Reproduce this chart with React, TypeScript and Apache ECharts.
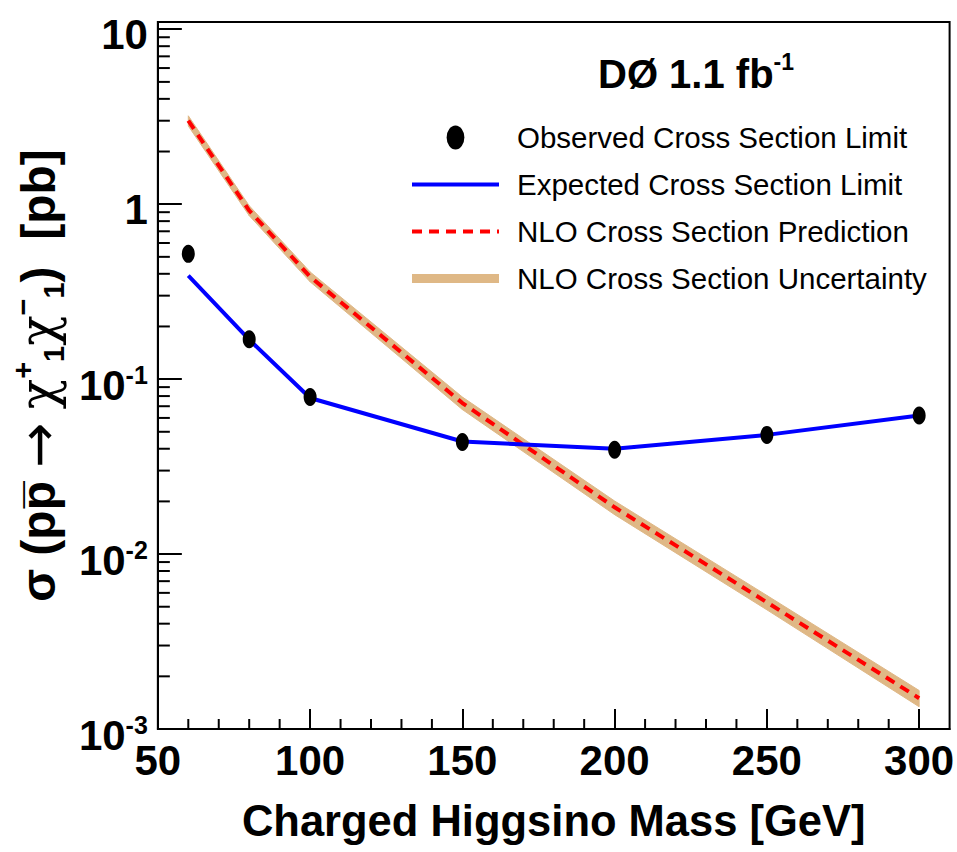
import React, { useEffect, useRef } from "react";
import * as echarts from "echarts";

// ---- data ----
const masses = [60, 80, 100, 150, 200, 250, 300];
const observed = [0.52, 0.169, 0.079, 0.0437, 0.0395, 0.048, 0.062];
const expected = [0.39, 0.168, 0.078, 0.044, 0.04, 0.048, 0.062];
const nloPred = [3.0, 0.92, 0.385, 0.073, 0.0185, 0.0053, 0.0015];
const nloUpper = [3.2, 0.98, 0.41, 0.079, 0.0201, 0.0058, 0.00166];
const nloLower = [2.8, 0.86, 0.36, 0.067, 0.0168, 0.0048, 0.00134];

const xMinorTicks = [60, 70, 80, 90, 110, 120, 130, 140, 160, 170, 180, 190, 210, 220, 230, 240, 260, 270, 280, 290];
const yMinorTicks = [
  0.002, 0.003, 0.004, 0.005, 0.006, 0.007, 0.008, 0.009,
  0.02, 0.03, 0.04, 0.05, 0.06, 0.07, 0.08, 0.09,
  0.2, 0.3, 0.4, 0.5, 0.6, 0.7, 0.8, 0.9,
  2, 3, 4, 5, 6, 7, 8, 9,
];

const X_MIN = 50;
const X_MAX = 310;
const Y_MIN = 0.001;
const Y_MAX = 11;

const NAMES = [
  "Observed Cross Section Limit",
  "Expected Cross Section Limit",
  "NLO Cross Section Prediction",
  "NLO Cross Section Uncertainty",
];

const FONT = "'Liberation Sans', Arial, sans-serif";
const GREEK = "'DejaVu Serif', 'Liberation Serif', serif";
const TAN = "#dfb886";

function buildOption(): any {
  const bandData = masses.map((m, i) => [m, nloLower[i], nloUpper[i]]);
  return {
    animation: false,
    backgroundColor: "#fff",
    grid: {
      left: 153,
      top: 22,
      width: 801,
      height: 707,
      show: true,
      borderColor: "#000",
      borderWidth: 2,
      backgroundColor: "#fff",
      containLabel: false,
    },
    graphic: [
      {
        type: "text",
        left: 598,
        top: 50,
        style: {
          text: "{m|DØ 1.1 fb}{s|-1}",
          rich: {
            m: { fontFamily: FONT, fontWeight: "bold", fontSize: 40, lineHeight: 44, fill: "#000", verticalAlign: "bottom" },
            s: { fontFamily: FONT, fontWeight: "bold", fontSize: 23, lineHeight: 23, fill: "#000", verticalAlign: "top" },
          },
        },
      },
    ],
    legend: {
      orient: "vertical",
      left: 410,
      top: 121,
      padding: 0,
      itemWidth: 87,
      itemHeight: 24,
      itemGap: 14,
      symbolKeepAspect: true,
      selectedMode: false,
      textStyle: { fontFamily: FONT, fontSize: 29.5, lineHeight: 33, color: "#000", padding: [0, 0, 0, 13] },
      data: [
        {
          name: NAMES[0],
          icon: "path://M8.5,0 A8.5,11.5 0 1,1 8.5,23 A8.5,11.5 0 1,1 8.5,0 Z",
          itemStyle: { color: "#000" },
        },
        { name: NAMES[1], lineStyle: { width: 4 }, itemStyle: { color: "transparent", borderWidth: 0 } },
        { name: NAMES[2], lineStyle: { width: 4 }, itemStyle: { color: "transparent", borderWidth: 0 } },
        { name: NAMES[3], icon: "path://M0,0 L87,0 L87,9 L0,9 Z", itemStyle: { color: TAN } },
      ],
    },
    xAxis: {
      type: "value",
      min: X_MIN,
      max: X_MAX,
      interval: 50,
      name: "Charged Higgsino Mass [GeV]",
      nameLocation: "middle",
      nameGap: 69,
      nameTextStyle: { fontFamily: FONT, fontWeight: "bold", fontSize: 43.5, lineHeight: 46, color: "#000" },
      axisLine: { show: true, lineStyle: { color: "#000", width: 2 } },
      axisTick: { show: true, inside: true, length: 20, lineStyle: { color: "#000", width: 2 } },
      axisLabel: {
        margin: 10,
        showMaxLabel: false,
        fontFamily: FONT,
        fontWeight: "bold",
        fontSize: 42,
        color: "#000",
      },
      splitLine: { show: false },
    },
    yAxis: {
      type: "log",
      logBase: 10,
      min: Y_MIN,
      max: Y_MAX,
      name: "{m|σ (pp\u0305 }{ar|→}{m| }{g|χ}{sup|+}{sub|1}{g|χ}{sup|−}{sub|1}{m|)  [pb]}",
      nameLocation: "middle",
      nameGap: 80,
      nameTextStyle: {
        rich: {
          m: { fontFamily: FONT, fontWeight: "bold", fontSize: 48, lineHeight: 60, color: "#000" },
          ar: { fontFamily: "'DejaVu Sans', sans-serif", fontWeight: "normal", fontSize: 54, lineHeight: 60, color: "#000" },
          g: { fontFamily: GREEK, fontWeight: "normal", fontSize: 50, lineHeight: 60, color: "#000" },
          sup: { fontFamily: FONT, fontWeight: "bold", fontSize: 29, lineHeight: 29, color: "#000", verticalAlign: "top" },
          sub: { fontFamily: FONT, fontWeight: "bold", fontSize: 29, lineHeight: 29, color: "#000", verticalAlign: "bottom" },
        },
      },
      axisLine: { show: true, lineStyle: { color: "#000", width: 2 } },
      axisTick: { show: true, inside: true, length: 24, lineStyle: { color: "#000", width: 2 } },
      axisLabel: {
        margin: 10,
        showMaxLabel: false,
        fontFamily: FONT,
        fontWeight: "bold",
        fontSize: 42,
        color: "#000",
        padding: [10, 0, 0, 0],
        formatter: (v: number) => {
          const e = Math.round(Math.log10(v));
          if (e === 1) return "10";
          if (e === 0) return "1";
          return `{b|10}{s|${e}}`;
        },
        rich: {
          b: { fontFamily: FONT, fontWeight: "bold", fontSize: 42, lineHeight: 44, color: "#000", verticalAlign: "bottom" },
          s: { fontFamily: FONT, fontWeight: "bold", fontSize: 25, lineHeight: 25, color: "#000", verticalAlign: "top" },
        },
      },
      splitLine: { show: false },
    },
    series: [
      {
        name: NAMES[3],
        type: "custom",
        z: 1,
        clip: true,
        data: bandData,
        encode: { x: 0, y: [1, 2] },
        itemStyle: { color: TAN },
        renderItem: (params: any, api: any) => {
          const i = params.dataIndex;
          if (i >= masses.length - 1) return null;
          const p1 = api.coord([masses[i], nloUpper[i]]);
          const p2 = api.coord([masses[i + 1], nloUpper[i + 1]]);
          const p3 = api.coord([masses[i + 1], nloLower[i + 1]]);
          const p4 = api.coord([masses[i], nloLower[i]]);
          return {
            type: "polygon",
            shape: { points: [p1, p2, p3, p4] },
            style: { fill: TAN, stroke: TAN, lineWidth: 1 },
          };
        },
      },
      {
        name: NAMES[2],
        type: "line",
        z: 2,
        symbol: "none",
        data: masses.map((m, i) => [m, nloPred[i]]),
        lineStyle: { color: "#ff0000", width: 4, type: [10, 7] },
        itemStyle: { color: "#ff0000" },
      },
      {
        name: NAMES[1],
        type: "line",
        z: 3,
        symbol: "none",
        data: masses.map((m, i) => [m, expected[i]]),
        lineStyle: { color: "#0000ff", width: 4 },
        itemStyle: { color: "#0000ff" },
      },
      {
        name: NAMES[0],
        type: "scatter",
        z: 4,
        symbol: "circle",
        symbolSize: [13, 18],
        data: masses.map((m, i) => [m, observed[i]]),
        itemStyle: { color: "#000", opacity: 1 },
      },
      {
        name: "xMinor",
        type: "custom",
        z: 5,
        clip: false,
        silent: true,
        data: xMinorTicks.map((v) => [v, Y_MIN]),
        encode: { x: 0, y: 1 },
        renderItem: (params: any, api: any) => {
          const p = api.coord([api.value(0), Y_MIN]);
          return {
            type: "line",
            shape: { x1: p[0], y1: p[1], x2: p[0], y2: p[1] - 10 },
            style: { stroke: "#000", lineWidth: 2 },
          };
        },
      },
      {
        name: "yMinor",
        type: "custom",
        z: 5,
        clip: false,
        silent: true,
        data: yMinorTicks.map((v) => [X_MIN, v]),
        encode: { x: 0, y: 1 },
        renderItem: (params: any, api: any) => {
          const p = api.coord([X_MIN, api.value(1)]);
          return {
            type: "line",
            shape: { x1: p[0], y1: p[1], x2: p[0] + 12, y2: p[1] },
            style: { stroke: "#000", lineWidth: 2 },
          };
        },
      },
    ],
  };
}

export default function App() {
  const ref = useRef<HTMLDivElement>(null);
  useEffect(() => {
    document.body.style.margin = "0";
    const chart = echarts.init(ref.current!, null, { renderer: "svg" });
    chart.setOption(buildOption());
    return () => chart.dispose();
  }, []);
  return <div ref={ref} style={{ width: 957, height: 852, background: "#fff" }} />;
}
